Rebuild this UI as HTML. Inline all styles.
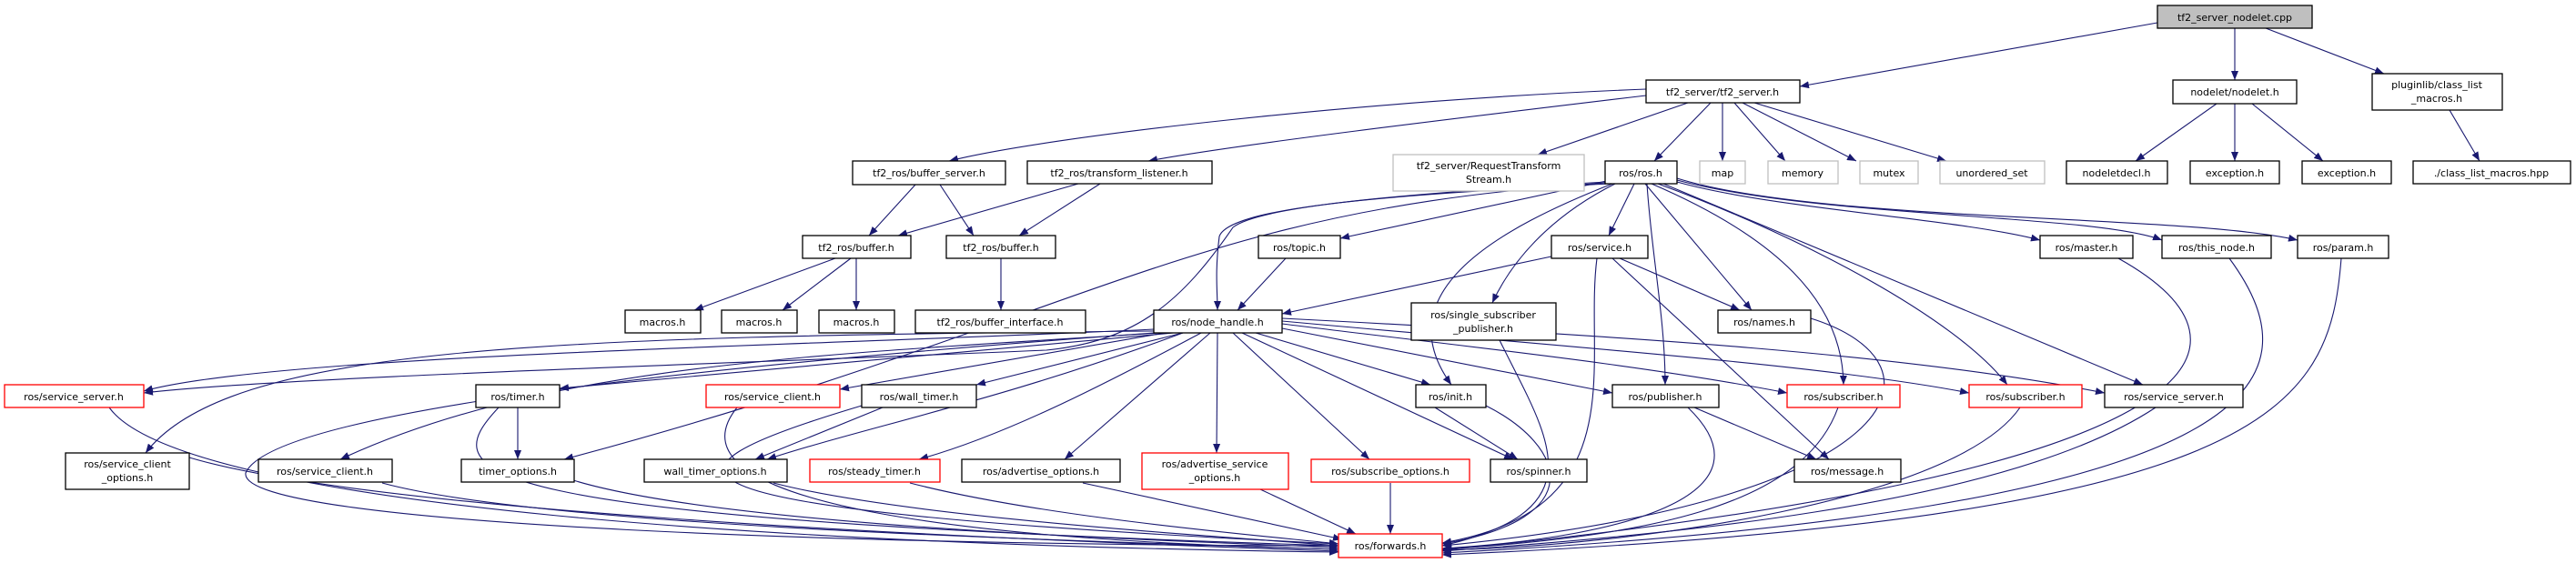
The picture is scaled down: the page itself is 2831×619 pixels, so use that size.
<!DOCTYPE html>
<html><head><meta charset="utf-8"><style>
html,body{margin:0;padding:0;background:#fff;}
svg{display:block;}
text{font-family:"DejaVu Sans","Liberation Sans",sans-serif;font-size:11px;fill:#000;text-anchor:middle;}
.n{fill:#fff;stroke:#000;stroke-width:1.3;}
.r{fill:#fff;stroke:#ff0000;stroke-width:1.3;}
.g{fill:#fff;stroke:#bfbfbf;stroke-width:1.3;}
.e{fill:none;stroke:#191970;stroke-width:1.1;marker-end:url(#a);}
</style></head><body>
<svg width="2831" height="619" viewBox="0 0 2831 619" xmlns="http://www.w3.org/2000/svg">
<defs><marker id="a" markerWidth="10" markerHeight="8" refX="10" refY="4" orient="auto" markerUnits="userSpaceOnUse"><path d="M0,0 L10,4 L0,8 z" fill="#191970"/></marker></defs>
<g>
<path class="e" d="M2371,25 L1978,95"/>
<path class="e" d="M2456,31 L2456,88"/>
<path class="e" d="M2490,31 L2620,81"/>
<path class="e" d="M1809,98 C1500,110 1150,150 1043,177"/>
<path class="e" d="M1809,105 C1600,130 1350,160 1262,177"/>
<path class="e" d="M1855,113 L1690,170"/>
<path class="e" d="M1880,113 L1818,177"/>
<path class="e" d="M1893,113 L1893,177"/>
<path class="e" d="M1906,113 L1962,177"/>
<path class="e" d="M1915,113 L2040,177"/>
<path class="e" d="M1928,113 L2139,177"/>
<path class="e" d="M2436,114 L2347,177"/>
<path class="e" d="M2456,114 L2456,177"/>
<path class="e" d="M2475,114 L2553,177"/>
<path class="e" d="M2692,121 L2725,177"/>
<path class="e" d="M1006,203 L955,259"/>
<path class="e" d="M1033,203 L1070,259"/>
<path class="e" d="M1185,202 L987,259"/>
<path class="e" d="M1209,202 L1120,259"/>
<path class="e" d="M918,284 L763,341"/>
<path class="e" d="M935,284 L860,341"/>
<path class="e" d="M941,284 L941,341"/>
<path class="e" d="M1100,284 L1100,341"/>
<path class="e" d="M1770,202 C1500,215 1350,230 1340,260 C1335,300 1338,320 1338,341"/>
<path class="e" d="M1770,198 L1473,262"/>
<path class="e" d="M1796,202 L1768,259"/>
<path class="e" d="M1775,202 C1700,240 1660,290 1640,333"/>
<path class="e" d="M1772,202 C1650,250 1520,320 1595,423"/>
<path class="e" d="M1808,202 L1925,341"/>
<path class="e" d="M1810,202 C1815,280 1830,350 1830,423"/>
<path class="e" d="M1815,202 C1950,260 2025,330 2026,423"/>
<path class="e" d="M1822,202 C1980,260 2150,350 2206,423"/>
<path class="e" d="M1828,202 L2355,423"/>
<path class="e" d="M1843,200 C1950,230 2150,240 2242,264"/>
<path class="e" d="M1843,198 C2000,240 2300,235 2376,264"/>
<path class="e" d="M1843,196 C2000,245 2400,235 2525,264"/>
<path class="e" d="M1766,200 C1500,215 1380,230 1355,250 C1300,330 1250,375 1150,385 C800,400 300,415 158,432"/>
<path class="e" d="M1766,201 C1300,230 1200,350 620,505"/>
<path class="e" d="M1413,284 L1360,341"/>
<path class="e" d="M1705,282 L1409,345"/>
<path class="e" d="M1780,284 L1912,341"/>
<path class="e" d="M1772,284 L2010,505"/>
<path class="e" d="M1755,284 C1740,400 1800,560 1585,597"/>
<path class="e" d="M1648,374 C1700,480 1760,560 1585,600"/>
<path class="e" d="M1268,362 C900,380 300,390 158,430"/>
<path class="e" d="M1290,366 L615,427"/>
<path class="e" d="M1280,366 L923,428"/>
<path class="e" d="M1300,366 L1073,423"/>
<path class="e" d="M1268,364 C600,370 250,380 160,498"/>
<path class="e" d="M1275,366 C900,390 600,400 374,505"/>
<path class="e" d="M1300,366 C1100,440 950,470 843,505"/>
<path class="e" d="M1320,366 C1200,430 1100,480 1010,505"/>
<path class="e" d="M1330,366 L1170,505"/>
<path class="e" d="M1338,366 L1337,498"/>
<path class="e" d="M1355,366 L1505,505"/>
<path class="e" d="M1365,366 L1663,505"/>
<path class="e" d="M1380,366 L1572,423"/>
<path class="e" d="M1409,361 L1772,432"/>
<path class="e" d="M1409,356 C1600,380 1800,400 1964,432"/>
<path class="e" d="M1409,353 C1700,380 2000,400 2164,432"/>
<path class="e" d="M1409,350 C1800,370 2100,390 2313,432"/>
<path class="e" d="M1268,366 C800,400 300,450 270,520 C260,580 1000,600 1471,600"/>
<path class="e" d="M569,448 L569,505"/>
<path class="e" d="M548,448 C480,520 490,570 1471,600"/>
<path class="e" d="M970,448 L830,505"/>
<path class="e" d="M947,446 C700,520 680,560 1471,598"/>
<path class="e" d="M1577,448 L1668,505"/>
<path class="e" d="M1633,446 C1720,490 1750,570 1585,598"/>
<path class="e" d="M1862,448 L1996,505"/>
<path class="e" d="M1855,448 C1950,540 1800,590 1585,603"/>
<path class="e" d="M2020,448 C1980,560 1800,590 1585,604"/>
<path class="e" d="M2220,448 C2150,550 1800,600 1585,605"/>
<path class="e" d="M2369,448 C2200,560 1800,590 1585,606"/>
<path class="e" d="M1990,350 C2150,400 2100,550 1585,600"/>
<path class="e" d="M2328,284 C2500,380 2450,520 1585,605"/>
<path class="e" d="M2450,284 C2550,420 2500,560 1585,608"/>
<path class="e" d="M2573,284 C2560,450 2500,570 1585,610"/>
<path class="e" d="M208,503 C400,560 1000,590 1471,606"/>
<path class="e" d="M420,531 C600,580 1200,595 1471,604"/>
<path class="e" d="M630,528 C800,580 1300,595 1471,602"/>
<path class="e" d="M850,531 C1000,570 1350,590 1471,600"/>
<path class="e" d="M1000,531 C1150,570 1400,590 1471,598"/>
<path class="e" d="M1190,531 L1475,593"/>
<path class="e" d="M1385,538 L1490,587"/>
<path class="e" d="M1528,531 L1528,587"/>
<path class="e" d="M120,448 C200,560 900,600 1471,607"/>
<path class="e" d="M810,448 C720,560 1100,595 1471,604"/>
</g>
<g>
<rect x="2371" y="6" width="170" height="25" fill="#bfbfbf" stroke="#000" stroke-width="1.3"/><text x="2456" y="23">tf2_server_nodelet.cpp</text>
<rect class="n" x="1809" y="88" width="169" height="25"/><text x="1893" y="105">tf2_server/tf2_server.h</text>
<rect class="n" x="2388" y="88" width="136" height="26"/><text x="2456" y="105">nodelet/nodelet.h</text>
<rect class="n" x="2607" y="81" width="143" height="40"/><text x="2678" y="97">pluginlib/class_list</text><text x="2678" y="112">_macros.h</text>
<rect class="g" x="1868" y="177" width="50" height="25"/><text x="1893" y="194">map</text>
<rect class="g" x="1943" y="177" width="77" height="25"/><text x="1981" y="194">memory</text>
<rect class="g" x="2044" y="177" width="64" height="25"/><text x="2076" y="194">mutex</text>
<rect class="g" x="2132" y="177" width="115" height="25"/><text x="2189" y="194">unordered_set</text>
<rect class="n" x="2271" y="177" width="111" height="25"/><text x="2326" y="194">nodeletdecl.h</text>
<rect class="n" x="2407" y="177" width="98" height="25"/><text x="2456" y="194">exception.h</text>
<rect class="n" x="2530" y="177" width="98" height="25"/><text x="2579" y="194">exception.h</text>
<rect class="n" x="2652" y="177" width="173" height="25"/><text x="2738" y="194">./class_list_macros.hpp</text>
<rect class="n" x="937" y="177" width="168" height="26"/><text x="1021" y="194">tf2_ros/buffer_server.h</text>
<rect class="n" x="1129" y="177" width="203" height="25"/><text x="1230" y="194">tf2_ros/transform_listener.h</text>
<rect class="g" x="1531" y="170" width="210" height="40"/><text x="1636" y="186">tf2_server/RequestTransform</text><text x="1636" y="201">Stream.h</text>
<rect class="n" x="1764" y="177" width="79" height="25"/><text x="1803" y="194">ros/ros.h</text>
<rect class="n" x="882" y="259" width="119" height="25"/><text x="941" y="276">tf2_ros/buffer.h</text>
<rect class="n" x="1040" y="259" width="120" height="25"/><text x="1100" y="276">tf2_ros/buffer.h</text>
<rect class="n" x="1383" y="259" width="90" height="25"/><text x="1428" y="276">ros/topic.h</text>
<rect class="n" x="1705" y="259" width="106" height="25"/><text x="1758" y="276">ros/service.h</text>
<rect class="n" x="2242" y="259" width="102" height="25"/><text x="2293" y="276">ros/master.h</text>
<rect class="n" x="2376" y="259" width="120" height="25"/><text x="2436" y="276">ros/this_node.h</text>
<rect class="n" x="2525" y="259" width="100" height="25"/><text x="2575" y="276">ros/param.h</text>
<rect class="n" x="687" y="341" width="83" height="25"/><text x="728" y="358">macros.h</text>
<rect class="n" x="793" y="341" width="83" height="25"/><text x="834" y="358">macros.h</text>
<rect class="n" x="900" y="341" width="83" height="25"/><text x="941" y="358">macros.h</text>
<rect class="n" x="1006" y="341" width="187" height="25"/><text x="1099" y="358">tf2_ros/buffer_interface.h</text>
<rect class="n" x="1268" y="341" width="141" height="25"/><text x="1338" y="358">ros/node_handle.h</text>
<rect class="n" x="1551" y="333" width="159" height="41"/><text x="1630" y="350">ros/single_subscriber</text><text x="1630" y="365">_publisher.h</text>
<rect class="n" x="1888" y="341" width="102" height="25"/><text x="1939" y="358">ros/names.h</text>
<rect class="r" x="5" y="423" width="153" height="25"/><text x="81" y="440">ros/service_server.h</text>
<rect class="n" x="523" y="423" width="92" height="25"/><text x="569" y="440">ros/timer.h</text>
<rect class="r" x="776" y="423" width="147" height="25"/><text x="849" y="440">ros/service_client.h</text>
<rect class="n" x="947" y="423" width="126" height="25"/><text x="1010" y="440">ros/wall_timer.h</text>
<rect class="n" x="1556" y="423" width="77" height="25"/><text x="1594" y="440">ros/init.h</text>
<rect class="n" x="1772" y="423" width="117" height="25"/><text x="1830" y="440">ros/publisher.h</text>
<rect class="r" x="1964" y="423" width="124" height="25"/><text x="2026" y="440">ros/subscriber.h</text>
<rect class="r" x="2164" y="423" width="124" height="25"/><text x="2226" y="440">ros/subscriber.h</text>
<rect class="n" x="2313" y="423" width="152" height="25"/><text x="2389" y="440">ros/service_server.h</text>
<rect class="n" x="72" y="498" width="136" height="40"/><text x="140" y="514">ros/service_client</text><text x="140" y="529">_options.h</text>
<rect class="n" x="284" y="505" width="147" height="25"/><text x="357" y="522">ros/service_client.h</text>
<rect class="n" x="507" y="505" width="124" height="25"/><text x="569" y="522">timer_options.h</text>
<rect class="n" x="708" y="505" width="157" height="25"/><text x="786" y="522">wall_timer_options.h</text>
<rect class="r" x="890" y="505" width="143" height="25"/><text x="961" y="522">ros/steady_timer.h</text>
<rect class="n" x="1057" y="505" width="174" height="25"/><text x="1144" y="522">ros/advertise_options.h</text>
<rect class="r" x="1255" y="498" width="161" height="40"/><text x="1335" y="514">ros/advertise_service</text><text x="1335" y="529">_options.h</text>
<rect class="r" x="1441" y="505" width="174" height="25"/><text x="1528" y="522">ros/subscribe_options.h</text>
<rect class="n" x="1638" y="505" width="106" height="25"/><text x="1691" y="522">ros/spinner.h</text>
<rect class="n" x="1972" y="505" width="117" height="25"/><text x="2030" y="522">ros/message.h</text>
<rect class="r" x="1471" y="587" width="114" height="26"/><text x="1528" y="604">ros/forwards.h</text>
</g>
</svg>
</body></html>
